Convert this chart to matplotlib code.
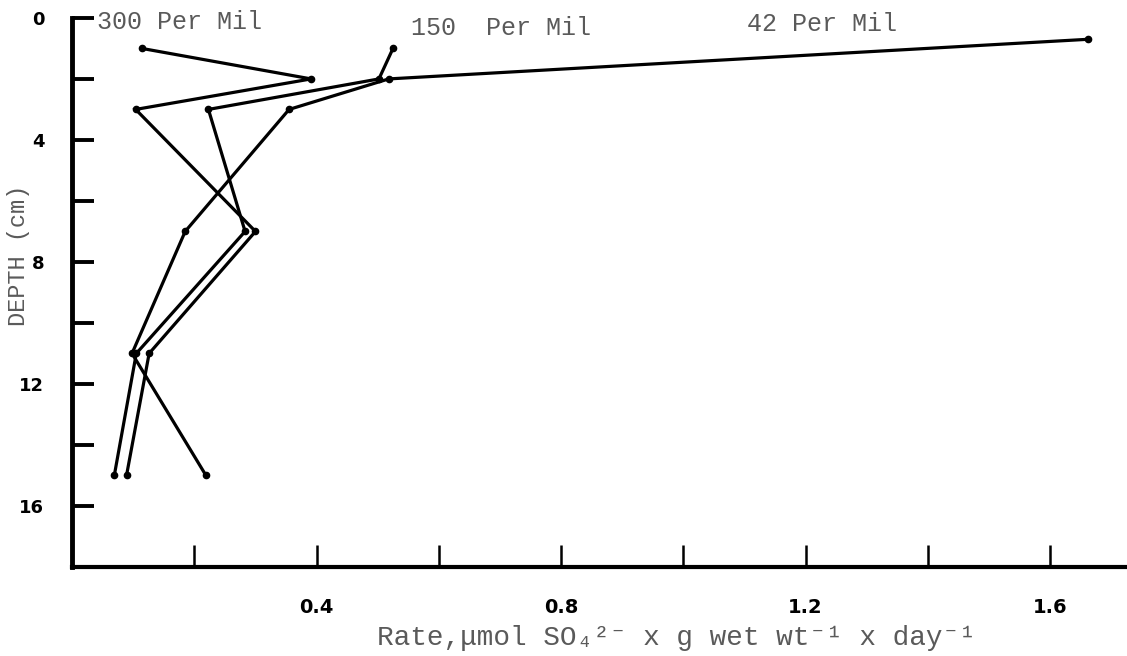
import matplotlib
matplotlib.use("Agg")
import matplotlib.pyplot as plt

# depth (cm) of each sample
depth_300 = [1, 2, 3, 7, 11, 15]
rate_300 = [0.114, 0.391, 0.104, 0.300, 0.126, 0.089]

depth_150 = [1, 2, 3, 7, 11, 15]
rate_150 = [0.525, 0.502, 0.223, 0.283, 0.105, 0.069]

depth_42 = [0.7, 2, 3, 7, 11, 15]
rate_42 = [1.663, 0.518, 0.355, 0.185, 0.098, 0.219]

series_labels = ["300 Per Mil", "150  Per Mil", "42 Per Mil"]

xticks = [0.2, 0.4, 0.6, 0.8, 1.0, 1.2, 1.4, 1.6]
xticklabels = ["", "0.4", "", "0.8", "", "1.2", "", "1.6"]
yticks = [0, 2, 4, 6, 8, 10, 12, 14, 16]
yticklabels = ["0", "", "4", "", "8", "", "12", "", "16"]

mono = ["Liberation Mono", "DejaVu Sans Mono"]
textcol = "#5a5a5a"

fig = plt.figure(figsize=(11.27, 6.56), dpi=100)
ax = fig.add_axes([0.064, 0.1357, 0.936, 0.837])

for r, d in [(rate_300, depth_300), (rate_150, depth_150), (rate_42, depth_42)]:
    ax.plot(r, d, color="black", lw=2.3, marker="o", ms=4.5, solid_joinstyle="miter")

ax.set_xlim(0, 1.726)
ax.set_ylim(18, 0)

for s in ["top", "right"]:
    ax.spines[s].set_visible(False)
ax.spines["left"].set_linewidth(3.5)
ax.spines["bottom"].set_linewidth(3.0)

ax.set_xticks(xticks)
ax.set_xticklabels(xticklabels, fontweight="bold", fontsize=14)
ax.set_yticks(yticks)
ax.set_yticklabels(yticklabels, fontweight="bold", fontsize=13)
ax.tick_params(axis="x", direction="in", length=16, width=1.8, pad=22)
ax.tick_params(axis="y", direction="in", length=16, width=2.8, pad=20)

ax.text(0.04, 0.13, series_labels[0], family=mono, fontsize=18, color=textcol, va="center")
ax.text(0.554, 0.33, series_labels[1], family=mono, fontsize=18, color=textcol, va="center")
ax.text(1.105, 0.2, series_labels[2], family=mono, fontsize=18, color=textcol, va="center")

ax.text(0.573, -0.129, "Rate,\u03bcmol SO\u2084\u00b2\u207b x g wet wt\u207b\u00b9 x day\u207b\u00b9",
        family=mono, fontsize=20, color=textcol, ha="center", va="center",
        transform=ax.transAxes)
ax.text(-0.051, 0.568, "DEPTH (cm)", family=mono, fontsize=17, color=textcol,
        ha="center", va="center", rotation=90, transform=ax.transAxes)

fig.savefig("out.png", dpi=100)
